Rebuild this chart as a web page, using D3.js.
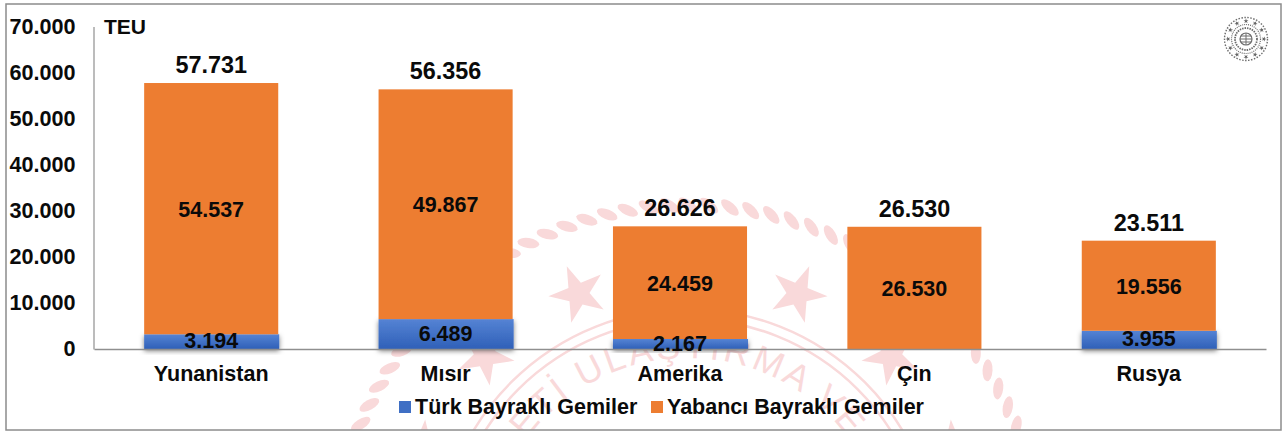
<!DOCTYPE html>
<html lang="tr">

<head>
    <meta charset="UTF-8">
    <title>TEU</title>
    <script src="https://d3js.org/d3.v7.min.js"></script>
    <style>
        html, body { margin: 0; padding: 0; background: #fff; }
        svg { display: block; font-family: "Liberation Sans", Arial, sans-serif; font-weight: bold; }
    </style>
</head>

<body>
    <div id="chart"></div>

    <script>
        // Values
        const categories = ["Yunanistan", "Mısır", "Amerika", "Çin", "Rusya"];
        const turkFlag = [3194, 6489, 2167, 0, 3955];
        const foreignFlag = [54537, 49867, 24459, 26530, 19556];
        const totals = [57731, 56356, 26626, 26530, 23511];
        const yTicks = [0, 10000, 20000, 30000, 40000, 50000, 60000, 70000];
        const seriesNames = ["Türk Bayraklı Gemiler", "Yabancı Bayraklı Gemiler"];

        const width = 1287;
        const height = 432;
        const blue = "#3f6fc4";
        const orange = "#ed7d31";
        const pink = "#f9d9da";

        const fmt = v => d3.format(",")(v).replace(/,/g, ".");

        const svg = d3.select("#chart").append("svg")
            .attr("width", width)
            .attr("height", height);

        const defs = svg.append("defs");

        const grad = defs.append("linearGradient")
            .attr("id", "blueGrad")
            .attr("x1", 0).attr("y1", 0).attr("x2", 0).attr("y2", 1);
        grad.append("stop").attr("offset", "0%").attr("stop-color", "#5583d4");
        grad.append("stop").attr("offset", "100%").attr("stop-color", "#2f60b8");

        const shadow = defs.append("filter")
            .attr("id", "barShadow")
            .attr("x", "-10%").attr("y", "-30%").attr("width", "120%").attr("height", "170%");
        shadow.append("feDropShadow")
            .attr("dx", 0).attr("dy", 2).attr("stdDeviation", 2.5)
            .attr("flood-color", "#000").attr("flood-opacity", 0.5);

        defs.append("filter").attr("id", "soft")
            .append("feGaussianBlur").attr("stdDeviation", 0.6);

        defs.append("clipPath").attr("id", "frameClip")
            .append("rect").attr("x", 6).attr("y", 4).attr("width", 1275).attr("height", 426);

        // Watermark seal behind the chart
        const seal = svg.append("g")
            .attr("clip-path", "url(#frameClip)")
            .append("g")
            .attr("transform", "translate(688,559)");

        const ropeRadius = 354;
        seal.append("g").selectAll("ellipse")
            .data(d3.range(0, 360, 3.4))
            .join("ellipse")
            .attr("rx", 11)
            .attr("ry", 5)
            .attr("fill", pink)
            .attr("transform", d => `rotate(${d}) translate(0,${-ropeRadius}) rotate(35)`);

        seal.append("g").selectAll("path")
            .data(d3.range(0, 360, 22.5))
            .join("path")
            .attr("d", d3.symbol().type(d3.symbolStar).size(1000))
            .attr("fill", pink)
            .attr("transform", d => `rotate(${d}) translate(0,-287)`);

        seal.selectAll("circle.ring")
            .data([250, 240])
            .join("circle")
            .attr("class", "ring")
            .attr("r", d => d)
            .attr("fill", "none")
            .attr("stroke", pink)
            .attr("stroke-width", 2.5);

        defs.append("path")
            .attr("id", "sealArc")
            .attr("d", "M-201,0A201,201 0 0 1 201,0");

        seal.append("text")
            .attr("font-size", 36)
            .attr("font-weight", "normal")
            .attr("letter-spacing", 3)
            .attr("fill", pink)
            .append("textPath")
            .attr("href", "#sealArc")
            .attr("startOffset", "50%")
            .attr("text-anchor", "middle")
            .text("ETİ ULAŞTIRMA VE");

        // Scales
        const x = d3.scaleBand()
            .domain(categories)
            .range([94, 1266])
            .paddingInner(0.428)
            .paddingOuter(0.214);

        const y = d3.scaleLinear()
            .domain([0, 70000])
            .range([349, 26.5]);

        // Blue bars first so the orange sits over their shadow
        svg.append("g").selectAll("rect")
            .data(categories.filter((c, i) => turkFlag[i] > 0))
            .join("rect")
            .attr("x", d => x(d))
            .attr("width", x.bandwidth() + 1)
            .attr("y", d => y(turkFlag[categories.indexOf(d)]))
            .attr("height", d => y(0) - y(turkFlag[categories.indexOf(d)]))
            .attr("fill", "url(#blueGrad)")
            .attr("filter", "url(#barShadow)");

        svg.append("g").selectAll("rect")
            .data(categories)
            .join("rect")
            .attr("x", d => x(d))
            .attr("width", x.bandwidth())
            .attr("y", (d, i) => y(turkFlag[i] + foreignFlag[i]))
            .attr("height", (d, i) => y(turkFlag[i]) - y(turkFlag[i] + foreignFlag[i]))
            .attr("fill", orange);

        // Axes
        const yAxis = svg.append("g")
            .attr("transform", "translate(93.5,0)")
            .call(d3.axisLeft(y).tickValues(yTicks).tickFormat(fmt).tickSize(0).tickPadding(18));
        yAxis.select(".domain").attr("stroke", "#a6a6a6").attr("stroke-width", 1.5);
        yAxis.selectAll("text")
            .attr("font-size", 21.6)
            .attr("fill", "#0a0a0a");

        const xAxis = svg.append("g")
            .attr("transform", "translate(0,349)")
            .call(d3.axisBottom(x).tickSize(0).tickPadding(17));
        xAxis.select(".domain").attr("stroke", "#8f8f8f").attr("stroke-width", 1.5);
        xAxis.selectAll("text")
            .attr("font-size", 21.5)
            .attr("fill", "#0a0a0a");

        svg.append("text")
            .attr("x", 104)
            .attr("y", 34)
            .attr("font-size", 21)
            .attr("fill", "#0a0a0a")
            .text("TEU");

        // Data labels
        const labels = svg.append("g")
            .attr("text-anchor", "middle")
            .attr("fill", "#0a0a0a");

        labels.selectAll("text.total")
            .data(totals)
            .join("text")
            .attr("class", "total")
            .attr("x", (d, i) => x(categories[i]) + x.bandwidth() / 2)
            .attr("y", d => y(d) - 10)
            .attr("font-size", 23.4)
            .text(fmt);

        labels.selectAll("text.foreign")
            .data(foreignFlag)
            .join("text")
            .attr("class", "foreign")
            .attr("x", (d, i) => x(categories[i]) + x.bandwidth() / 2)
            .attr("y", (d, i) => y(turkFlag[i] + d / 2) + 8)
            .attr("font-size", 21.5)
            .text(fmt);

        labels.selectAll("text.turk")
            .data(turkFlag)
            .join("text")
            .attr("class", "turk")
            .attr("x", (d, i) => x(categories[i]) + x.bandwidth() / 2)
            .attr("y", d => y(d / 2) + 6.5)
            .attr("font-size", 21.5)
            .text(d => d > 0 ? fmt(d) : "");

        // Legend
        const legend = svg.append("g").selectAll("g")
            .data(seriesNames)
            .join("g")
            .attr("transform", (d, i) => `translate(${[399, 651][i]},401)`);

        legend.append("rect")
            .attr("width", 12)
            .attr("height", 12)
            .attr("fill", (d, i) => i === 0 ? blue : orange);

        legend.append("text")
            .attr("x", 16)
            .attr("y", 13)
            .attr("font-size", 21.5)
            .attr("fill", "#0a0a0a")
            .text(d => d);

        // Small emblem, top right
        const logo = svg.append("g")
            .attr("transform", "translate(1246,39)")
            .attr("fill", "none")
            .attr("stroke", "#6d6d6d")
            .attr("filter", "url(#soft)");

        logo.selectAll("circle")
            .data([[21.5, "1.5 1.5", 1.4], [14.5, "1 1", 1.2], [11, "1.5 1", 1.8], [6, null, 1.2]])
            .join("circle")
            .attr("r", d => d[0])
            .attr("stroke-dasharray", d => d[1])
            .attr("stroke-width", d => d[2]);

        logo.append("g").selectAll("path")
            .data(d3.range(0, 360, 30))
            .join("path")
            .attr("d", d3.symbol().type(d3.symbolStar).size(8))
            .attr("fill", "#666")
            .attr("stroke", "none")
            .attr("transform", d => `rotate(${d}) translate(0,-18)`);

        logo.append("path")
            .attr("d", "M-6,0H6M0,-6V6M-5,-3H5M-5,3H5")
            .attr("stroke-width", 1);

        // Outer frame
        svg.append("rect")
            .attr("x", 6)
            .attr("y", 4)
            .attr("width", 1275)
            .attr("height", 426)
            .attr("fill", "none")
            .attr("stroke", "#8c8c8c")
            .attr("stroke-width", 1.5);
    </script>
</body>

</html>
